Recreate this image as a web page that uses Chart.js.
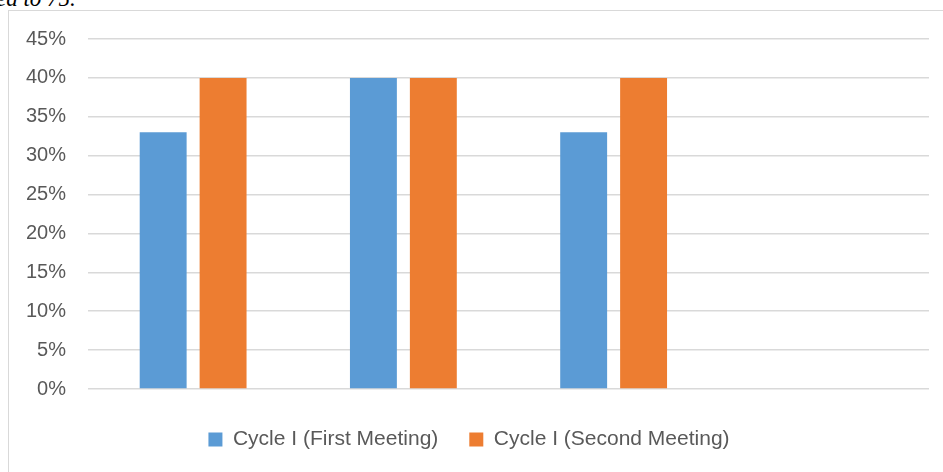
<!DOCTYPE html>
<html>
<head>
<meta charset="utf-8">
<script src="https://cdn.jsdelivr.net/npm/chart.js@4"></script>
<style>
  html, body { margin: 0; padding: 0; background: #fff; }
  body { width: 943px; height: 472px; position: relative; overflow: hidden; }
  #cut { position: absolute; left: -4px; top: -14px; font: italic 23px "Liberation Serif", serif; color: #000; white-space: nowrap; }
  #frame { position: absolute; left: 8px; top: 10px; width: 935px; height: 462px; border-left: 1px solid #d9d9d9; border-top: 1px solid #d9d9d9; }
  canvas { position: absolute; left: 0; top: 1px; }
</style>
</head>
<body>
<div id="cut">ed to 75.</div>
<div id="frame"><canvas id="chart" width="934" height="460"></canvas></div>
<script>
const categories = ["", "", "", ""];
const seriesNames = ["Cycle I (First Meeting)", "Cycle I (Second Meeting)"];
const firstMeeting = [33, 40, 33, null];
const secondMeeting = [40, 40, 40, null];
const tickMax = 45;
const tickStep = 5;

const ctx = document.getElementById("chart");

const data = {
  labels: categories,
  datasets: [
    {
      label: seriesNames[0],
      data: firstMeeting,
      backgroundColor: "#5b9bd5",
    },
    {
      label: seriesNames[1],
      data: secondMeeting,
      backgroundColor: "#ed7d31",
    },
  ],
};

const config = {
  type: "bar",
  data,
  options: {
    responsive: false,
    animation: false,
    events: [],
    categoryPercentage: 0.57,
    barPercentage: 0.783,
    layout: { padding: { top: 27, right: 14, bottom: 12, left: 0 } },
    scales: {
      x: {
        grid: { display: false },
        border: { display: false },
        ticks: { display: false },
        afterFit: (scale) => { scale.height = 9; },
      },
      y: {
        min: 0,
        max: tickMax,
        grid: { color: "#d9d9d9", lineWidth: 1.5, drawTicks: false },
        border: { display: false },
        ticks: {
          stepSize: tickStep,
          padding: 22,
          color: "#595959",
          font: { family: "Liberation Sans", size: 20 },
          callback: (v) => v + "%",
        },
        afterFit: (scale) => {
          scale.width = 79;
          // tick padding should only push labels sideways
          scale.paddingTop = 0;
          scale.paddingBottom = 0;
        },
      },
    },
    plugins: {
      legend: {
        position: "bottom",
        labels: {
          boxWidth: 14,
          boxHeight: 14,
          padding: 31,
          color: "#595959",
          font: { family: "Liberation Sans", size: 21 },
        },
      },
      tooltip: { enabled: false },
    },
  },
};

const myChart = new Chart(ctx, config);
</script>
</body>
</html>
